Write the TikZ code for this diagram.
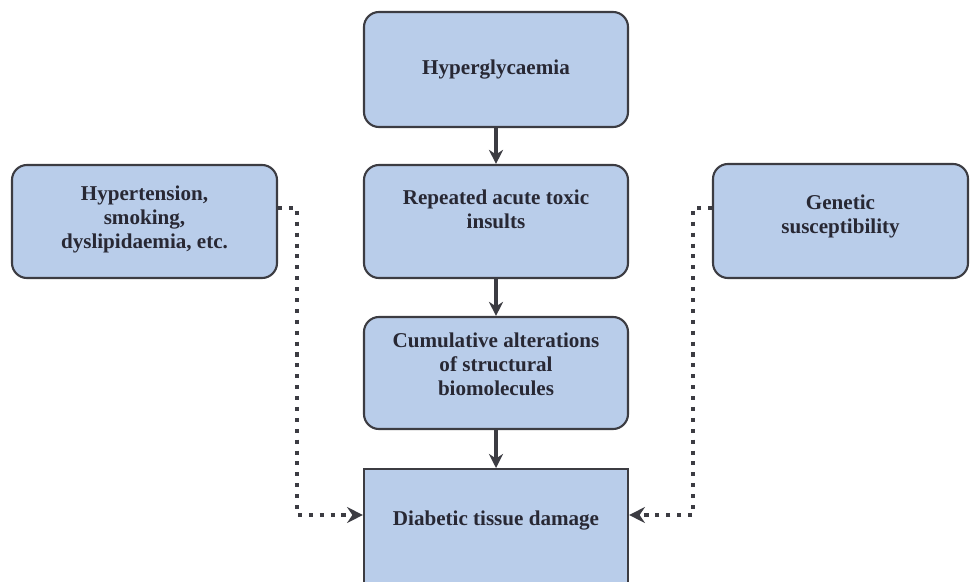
\documentclass[tikz,border=0pt]{standalone}
\usepackage{fontspec}
\setmainfont{Liberation Serif}
\usetikzlibrary{arrows.meta}

\definecolor{boxfill}{RGB}{185,205,234}
\definecolor{boxline}{RGB}{60,60,66}
\definecolor{inkdark}{RGB}{40,40,52}

\tikzset{
  stepbox/.style={draw=boxline, line width=1.2pt, fill=boxfill, rounded corners=0.3cm,
    align=center, text=inkdark, font=\fontsize{12}{13.6}\selectfont\bfseries,
    minimum width=5.28cm, inner xsep=0pt, inner ysep=0pt},
  flow/.style={draw=boxline, line width=2.2pt, -{Stealth[length=8pt,width=8pt]}},
  linkdot/.style={draw=boxline, line width=2.3pt, dash pattern=on 2.3pt off 3.9pt,
    -{Stealth[length=9pt,width=9pt,inset=3pt]}}
}

\begin{document}
\begin{tikzpicture}

\useasboundingbox (0,0) rectangle (19.4,11.62);
\clip (0,0) rectangle (19.4,11.62);

% Central chain
\node[stepbox, text height=1.24cm, text depth=1.06cm] (hyper) at (9.92,10.23) {Hyperglycaemia};
\node[stepbox, text height=1.26cm, text depth=1.00cm] (toxic) at (9.92,7.19) {Repeated acute toxic\\insults};
\node[stepbox, text height=1.56cm, text depth=0.68cm] (cumul) at (9.92,4.16) {Cumulative alterations\\of structural\\biomolecules};
\node[stepbox, rounded corners=0pt, anchor=north, text height=1.12cm,
  text depth=2cm] (damage) at (9.92,2.26) {Diabetic tissue damage};

% Side factors
\node[stepbox, minimum width=5.3cm, text height=1.66cm, text depth=0.60cm] (risk) at (2.89,7.19)
  {Hypertension,\\smoking,\\dyslipidaemia, etc.};
\node[stepbox, minimum width=5.1cm, text height=1.38cm, text depth=0.90cm] (genes) at (16.81,7.2)
  {Genetic\\susceptibility};

% Arrows
\draw[flow] (hyper) -- (toxic);
\draw[flow] (toxic) -- (cumul);
\draw[flow] (cumul) -- (damage);

% Dotted links
\coordinate (lhook) at (5.94,7.46);
\coordinate (lfoot) at (5.94,1.32);
\coordinate (rhook) at (13.86,7.46);
\coordinate (rfoot) at (13.86,1.32);
\draw[linkdot] (risk.east |- lhook) -- (lhook) -- (lfoot) -- (damage.west |- lfoot);
\draw[linkdot] (genes.west |- rhook) -- (rhook) -- (rfoot) -- (damage.east |- rfoot);

\end{tikzpicture}
\end{document}
